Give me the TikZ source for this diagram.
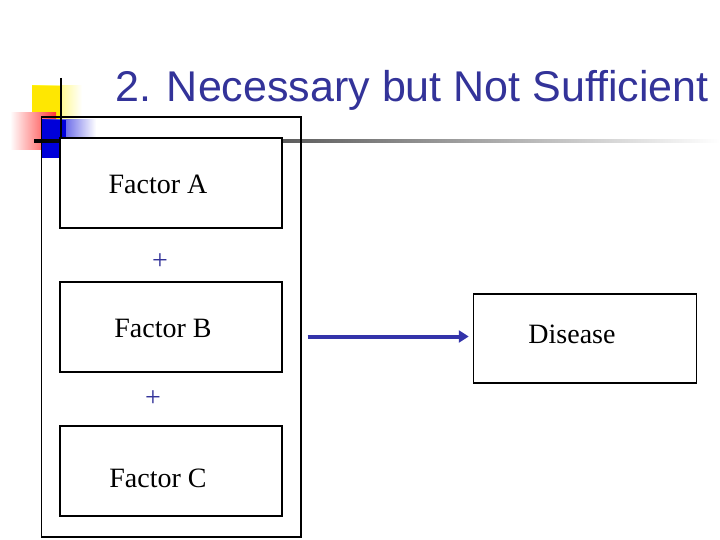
\documentclass[tikz,border=0pt]{standalone}
\usepackage{fontspec}
\setmainfont{Liberation Serif}
\newfontfamily\titlefont{Liberation Sans}
\usepackage{xcolor}
\usetikzlibrary{arrows.meta, positioning, fit}

\definecolor{slideblue}{HTML}{333399}
\definecolor{arrowblue}{HTML}{3333AA}

\begin{document}
\begin{tikzpicture}[
  x=1pt, y=-1pt,
  factorbox/.style={draw, line width=1.5pt, minimum width=222pt, minimum height=90pt, inner sep=0pt},
  plus/.style={font=\fontsize{28}{30}\selectfont, text=slideblue, inner sep=0pt},
  lbl/.style={font=\fontsize{28}{30}\selectfont, inner sep=0pt},
  arr/.style={-{Triangle[length=10pt, width=12pt]}, line width=4pt, arrowblue},
  node distance=52.5pt
]
  \useasboundingbox[fill=white] (0,0) rectangle (720,540);

  % corner decoration
  \fill[left color=yellow!90!orange, right color=white] (32,86) rectangle (82,136);
  \fill[yellow!90!orange] (32,86) rectangle (62,136);
  \fill[left color=white, right color=red!80] (10,113) rectangle (56,150);
  \fill[left color=blue!85!black, right color=white] (42,120) rectangle (96,158);
  \fill[blue!85!black] (42,120) rectangle (66,158);
  \draw[line width=2pt] (61,78) -- (61,160);
  \shade[left color=black, right color=white] (34,139.5) rectangle (720,142.5);

  % title
  \node[anchor=base west, inner sep=0pt, text=slideblue,
        font=\titlefont\fontsize{43}{46}\selectfont] (title) at (115,102)
        {2. Necessary but Not Sufficient};

  % factors
  \node[factorbox, fill=white, label={[lbl, xshift=-13pt, yshift=-1pt]center:Factor A}] (fa) at (171,183) {};
  \node[factorbox, below=of fa, label={[lbl, xshift=-8pt, yshift=-1pt]center:Factor B}] (fb) {};
  \node[factorbox, below=of fb, label={[lbl, xshift=-13pt, yshift=-7pt]center:Factor C}] (fc) {};
  \node[plus] (p1) at (160,262) {+};
  \node[plus] (p2) at (153,399) {+};
  \node[draw, line width=1.5pt, fit=(fa) (fc), inner xsep=18pt, inner ysep=20pt] (outer) {};

  % outcome
  \node[factorbox, minimum width=223pt, minimum height=89pt,
        label={[lbl, xshift=-13pt, yshift=4pt]center:Disease}] (dis) at (585,338.5) {};

  \draw[arr] ([xshift=6pt, yshift=2pt]outer.east |- dis.west) -- ([xshift=-4pt, yshift=2pt]dis.west);
\end{tikzpicture}
\end{document}
